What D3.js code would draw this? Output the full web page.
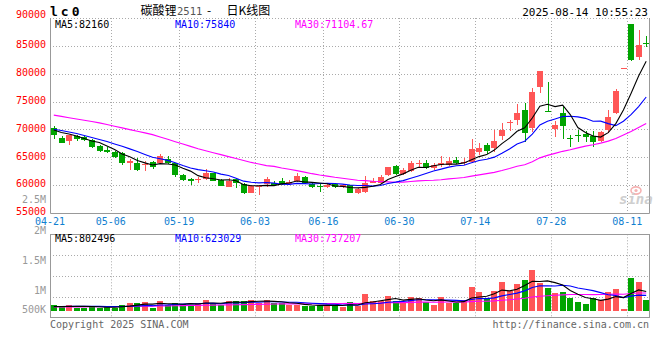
<!DOCTYPE html>
<html><head><meta charset="utf-8">
<script src="https://cdn.jsdelivr.net/npm/d3@7"></script>
<style>
html,body{margin:0;padding:0;background:#fff;}
svg{display:block;}
text{font-family:"DejaVu Sans Mono",monospace;}
</style></head><body>
<svg id="c" width="660" height="360"></svg>
<script>
const dates = ["04-21","04-22","04-23","04-24","04-25","04-28","04-29","04-30",
"05-06","05-07","05-08","05-09","05-12","05-13","05-14","05-15","05-16",
"05-19","05-20","05-21","05-22","05-23","05-26","05-27","05-28","05-29","05-30",
"06-03","06-04","06-05","06-06","06-09","06-10","06-11","06-12","06-13",
"06-16","06-17","06-18","06-19","06-20","06-23","06-24","06-25","06-26","06-27",
"06-30","07-01","07-02","07-03","07-04","07-07","07-08","07-09","07-10","07-11",
"07-14","07-15","07-16","07-17","07-18","07-21","07-22","07-23","07-24","07-25",
"07-28","07-29","07-30","07-31","08-01","08-04","08-05","08-06","08-07","08-08",
"08-11","08-12","08-13"];

const open = [70260,68460,67870,68770,68640,68050,67080,66250,66000,65770,
64030,63980,63620,64100,63980,64640,63920,61770,61160,60920,
61100,62130,60920,59720,61050,60210,58640,59610,60210,60440,
60800,60210,60800,61520,60210,59900,59610,60210,59720,59970,
58640,58820,60440,60330,61820,63440,62000,62540,63920,64030,
63020,63670,63620,64510,63980,64210,65860,67260,66670,68910,
71100,71750,73490,70260,77530,73220,70080,72950,68410,69000,
69180,68860,67980,69810,72950,80970,88930,82950,85520];
const close = [68950,67620,68950,68280,68050,66790,66180,65900,65050,64030,
64280,62770,63850,63200,65230,63980,61770,60920,60690,61160,
62130,60800,59900,60800,60330,58640,59850,59850,61160,60080,
60210,60620,61700,60330,59610,59610,59970,59720,59970,58640,
59250,60440,60740,61460,63200,62000,62720,64030,64030,63020,
63620,63890,64390,63920,64150,66430,66720,66180,67980,69930,
71340,72950,69270,76720,80540,73080,70850,70560,68280,68890,
68730,67690,69540,72290,76950,81030,82460,85210,85430];
const high = [70560,68770,69000,68950,68880,68230,67260,66790,66080,65950,
64750,64870,64390,64280,65590,65180,64030,62000,61280,61520,
62840,62230,61100,61230,61230,60330,59970,60030,61520,60690,
61280,60920,62130,61640,60620,60440,60150,60440,60210,60030,
59400,61640,61230,61820,63310,63620,63020,64390,64510,64510,
63920,65230,65000,65000,64820,68280,67480,67570,69900,71160,
71750,74570,74690,77440,80540,78510,71570,74150,69060,69840,
69770,69670,69770,73540,77260,81030,88930,87900,86720];
const low = [68340,67480,67260,67980,67870,66670,66000,65820,64870,63670,
62720,62590,62490,62950,63740,63800,61520,60690,60080,60440,
60920,60690,59790,59610,59430,58360,58540,58290,59670,59850,
60030,59970,60620,60210,59430,58770,59430,59540,59430,58540,
58360,58640,60300,60210,61640,61820,61820,62410,63310,62840,
62720,63310,63490,63740,63620,64030,65410,65590,66000,68160,
69670,70850,67740,69490,76540,73040,68590,68340,66850,67740,
67740,66850,67740,69360,72820,80970,82340,82520,84740];
const volume = [236000,194000,238000,124000,127000,192000,121000,153000,126000,234000,
318000,322000,360000,124000,401000,236000,316000,264000,238000,318000,
442000,320000,233000,401000,398000,404000,445000,317000,440000,319000,
316000,236000,239000,194000,191000,236000,233000,236000,165000,360000,
194000,690000,401000,398000,607000,413000,372000,554000,512000,371000,
236000,556000,331000,306000,442000,979000,785000,471000,826000,1198000,
814000,1103000,1269000,1682000,1157000,950000,744000,785000,537000,372000,
277000,512000,442000,785000,897000,70000,1351000,1198000,442000];

// moving-average values before enough history is on the chart
const ma5Head = [69900,69450,69180,68820];
const ma10Head = [70020,69810,69540,69270,68910,68550,68190,67830,67390];
const ma30Head = [72570,72340,72110,71870,71640,71410,71170,70870,70560,70280,
69970,69670,69380,69070,68640,68230,67800,67390,66960,66520,
66180,65820,65480,65120,64780,64420,64080,63780,63510];
const volMa5Head = [168000,172000,176000,179000];
const volMa10Head = [175000,176000,178000,177000,179000,180000,178000,176000,175000];
const volMa30Head = [150000,152000,155000,158000,160000,162000,165000,168000,170000,174000,
178000,183000,188000,190000,196000,200000,205000,209000,213000,218000,
225000,230000,233000,240000,246000,252000,258000,262000,268000];

const priceTicks = [90000,85000,80000,75000,70000,65000,60000,55000];
const volTicks = [2500000,2000000,1500000,1000000,500000];
const volTickLabels = ["2.5M","2M","1.5M","1M","500K"];
const dateTicks = ["04-21","05-06","05-19","06-03","06-16","06-30","07-14","07-28","08-11"];
const priceMaLast = [82160,75840,71104.67];
const volMaLast = [802496,623029,737207];
const maNames = ["MA5","MA10","MA30"];
const maColors = ["#000000","#0000ff","#ff00ff"];
const RED = "#ff5656", GREEN = "#00a400";

function movingAvg(vals, n, head){
  return vals.map((v,i)=> i < n-1 ? head[i] : d3.mean(vals.slice(i-n+1, i+1)));
}

const svg = d3.select("#c");
const PL = 50, PR = 650, PT = 18, PB = 213;      // price panel
const VT = 234.3, VB = 317.7, VBASE = 310.7;     // volume panel

const x = d3.scaleBand().domain(dates).range([PL, PR]).paddingInner(0.25).paddingOuter(0.125);
const step = x.step(), bw = x.bandwidth();
const gridX = d => x(d) - step*0.125;
const cx = d => x(d) + bw/2;
const y = d3.scaleLinear().domain([55000, 90000]).range([PB, PT]);
const yVol = d3.scaleLinear().domain([0, 1000000]).range([VBASE, VBASE - 24.2]);
const volLabelY = d3.scaleLinear().domain([1000000, 2500000]).range([294.3, 203.3]);

const defs = svg.append("defs");
defs.append("clipPath").attr("id","cp").append("rect").attr("x",PL).attr("y",PT).attr("width",PR-PL).attr("height",PB-PT);
defs.append("clipPath").attr("id","cv").append("rect").attr("x",PL).attr("y",VT).attr("width",PR-PL).attr("height",VB-VT);

const GRID = "#aaaaaa", BORDER = "#999999";
const snap = v => Math.round(v) + 0.5;

// ---- grids ----
const g = svg.append("g");
priceTicks.filter(v => v > 55000).forEach(v => {
  g.append("line").attr("x1",PL).attr("x2",PR).attr("y1",snap(y(v))).attr("y2",snap(y(v)))
   .attr("stroke",GRID).attr("stroke-dasharray","1,2");
});
dateTicks.slice(1).forEach(d => {
  const xx = snap(gridX(d));
  g.append("line").attr("x1",xx).attr("x2",xx).attr("y1",PT).attr("y2",PB).attr("stroke",GRID).attr("stroke-dasharray","1,2");
  g.append("line").attr("x1",xx).attr("x2",xx).attr("y1",VT).attr("y2",VB).attr("stroke",GRID).attr("stroke-dasharray","1,2");
});
[1,2,3].forEach(k => {
  const yy = snap(VT + (VB-VT)*k/4);
  g.append("line").attr("x1",PL).attr("x2",PR).attr("y1",yy).attr("y2",yy).attr("stroke",GRID).attr("stroke-dasharray","1,2");
});
g.append("path").attr("d",`M${PL+0.5},${PT}V${snap(PB)}H${PR-0.5}V${PT}`).attr("fill","none").attr("stroke",BORDER);
g.append("rect").attr("x",PL+0.5).attr("y",snap(VT)).attr("width",PR-PL-1).attr("height",Math.round(VB-VT))
 .attr("fill","none").attr("stroke",BORDER);

// sina watermark
const wm = svg.append("g").attr("opacity",0.6);
wm.append("ellipse").attr("cx",636).attr("cy",190.5).attr("rx",5).attr("ry",3.6).attr("fill","none").attr("stroke","#f08080").attr("stroke-width",1.6);
wm.append("circle").attr("cx",636).attr("cy",190.5).attr("r",1.6).attr("fill","#f08080");
wm.append("text").attr("x",619).attr("y",204).attr("font-family","DejaVu Sans").attr("font-style","italic")
  .attr("font-weight","bold").attr("font-size",14).attr("fill","#b0b0b0").text("sina");

// ---- candles ----
const cg = svg.append("g").attr("clip-path","url(#cp)").attr("shape-rendering","crispEdges");
const bwPx = Math.round(bw);
dates.forEach((d,i) => {
  const col = close[i] >= open[i] ? RED : GREEN;
  const x0 = Math.round(x(d));
  const wx = x0 + Math.floor(bwPx/2) + 0.5;
  cg.append("line").attr("x1",wx).attr("x2",wx).attr("y1",y(high[i])).attr("y2",y(low[i])).attr("stroke",col);
  const top = y(Math.max(open[i],close[i])), bot = y(Math.min(open[i],close[i]));
  cg.append("rect").attr("x",x0).attr("width",bwPx).attr("y",top).attr("height",Math.max(1,bot-top)).attr("fill",col);
});

// ---- price MAs ----
const pMa = [movingAvg(close,5,ma5Head), movingAvg(close,10,ma10Head), movingAvg(close,30,ma30Head)];
const mg = svg.append("g").attr("clip-path","url(#cp)");
[2,1,0].forEach(k => {
  mg.append("path").datum(pMa[k]).attr("fill","none").attr("stroke",maColors[k]).attr("stroke-width",1.1)
    .attr("d", d3.line().x((v,i)=>cx(dates[i])).y(v=>y(v)));
});

// ---- volume ----
const vg = svg.append("g").attr("clip-path","url(#cv)").attr("shape-rendering","crispEdges");
dates.forEach((d,i) => {
  const col = close[i] >= open[i] ? RED : GREEN;
  const x0 = Math.round(x(d));
  vg.append("rect").attr("x",x0).attr("width",bwPx).attr("y",yVol(volume[i])).attr("height",VBASE - yVol(volume[i])).attr("fill",col);
});
const vMa = [movingAvg(volume,5,volMa5Head), movingAvg(volume,10,volMa10Head), movingAvg(volume,30,volMa30Head)];
const vmg = svg.append("g").attr("clip-path","url(#cv)");
[2,1,0].forEach(k => {
  vmg.append("path").datum(vMa[k]).attr("fill","none").attr("stroke",maColors[k]).attr("stroke-width",1.1)
    .attr("d", d3.line().x((v,i)=>cx(dates[i])).y(v=>yVol(v)));
});

// ---- axis labels ----
const tg = svg.append("g").attr("font-size",10);
priceTicks.forEach(v => {
  const base = y(v) <= PT ? y(v) + 0.3 : y(v) + 2.3;
  tg.append("text").attr("x",46).attr("y",base).attr("text-anchor","end").attr("fill","#ff0000").text(v);
});
volTicks.forEach((v,k) => {
  tg.append("text").attr("x",46).attr("y",Math.min(volLabelY(v), 313.3)).attr("text-anchor","end").attr("fill","#999999").text(volTickLabels[k]);
});
dateTicks.forEach(d => {
  tg.append("text").attr("x",gridX(d)).attr("y",224.5).attr("text-anchor","middle").attr("fill","#1080d0").text(d);
});

// legends
const legX = [55,175,295];
maNames.forEach((n,k) => {
  tg.append("text").attr("x",legX[k]).attr("y",27.5).attr("fill",maColors[k]).text(n + ":" + priceMaLast[k]);
  tg.append("text").attr("x",legX[k]).attr("y",241.7).attr("fill",maColors[k]).text(n + ":" + volMaLast[k]);
});

// title
svg.append("text").attr("x",50).attr("y",16).attr("font-size",13).attr("font-weight","bold")
  .attr("letter-spacing","3px").attr("fill","#000").text("lc0");
const tt = svg.append("text").attr("y",15).attr("font-size",12).attr("fill","#000");
tt.append("tspan").attr("x",140.5).attr("font-family","Noto Sans CJK SC").text("碳酸锂");
tt.append("tspan").attr("x",177).attr("font-size",10.5).attr("fill","#555").text("2511");
tt.append("tspan").attr("x",207).attr("font-family","Noto Sans CJK SC").text("-");
tt.append("tspan").attr("x",226.5).attr("font-family","Noto Sans CJK SC").text("日K线图");
svg.append("text").attr("x",648).attr("y",16).attr("text-anchor","end").attr("font-size",11)
  .attr("fill","#000").text("2025-08-14 10:55:23");

// footer
svg.append("text").attr("x",50).attr("y",327.5).attr("font-size",10).attr("fill","#666").text("Copyright 2025 SINA.COM");
svg.append("text").attr("x",649).attr("y",327.5).attr("font-size",10).attr("text-anchor","end").attr("fill","#666").text("http://finance.sina.com.cn");
</script>
</body></html>
